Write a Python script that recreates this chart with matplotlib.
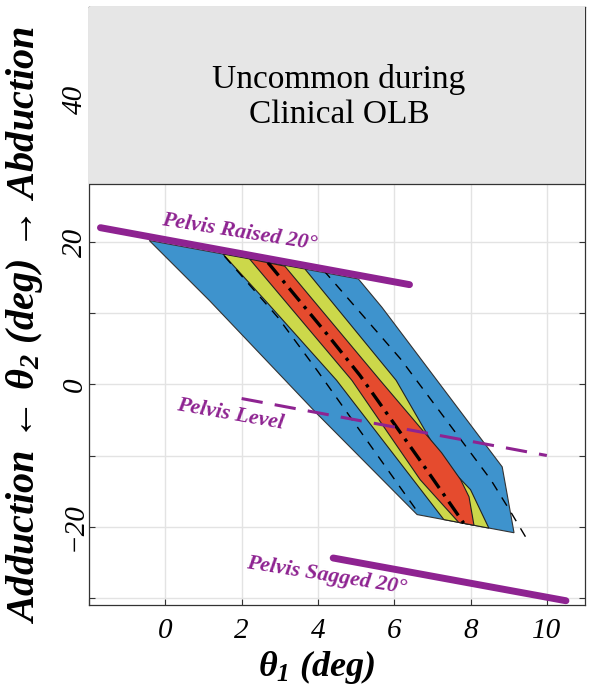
import matplotlib
matplotlib.use("Agg")
import matplotlib.pyplot as plt
from matplotlib.ticker import MultipleLocator, FuncFormatter

plt.rcParams['font.family'] = ['Liberation Serif', 'DejaVu Serif']
plt.rcParams['mathtext.fontset'] = 'custom'
plt.rcParams['mathtext.it'] = 'Liberation Serif:italic:bold'
plt.rcParams['mathtext.rm'] = 'Liberation Serif:italic:bold'

# regiones (theta1, theta2)
banda_azul_x = [-0.42, 5.06, 5.68, 8.83, 9.14, 6.60, 6.47, 3.97, 1.16]
banda_azul_y = [20.2, 14.8, 10.8, -11.6, -20.85, -18.3, -17.6, -4.1, 11.75]

banda_amarilla_x = [1.51, 3.66, 6.05, 7.25, 8.00, 8.48, 7.30, 4.49, 2.65]
banda_amarilla_y = [18.3, 16.2, 0.56, -10.6, -14.8, -20.2, -19.0, 0.56, 11.6]

banda_roja_x = [2.21, 3.13, 5.63, 7.24, 7.74, 7.96, 8.09, 7.69, 6.68, 4.89]
banda_roja_y = [17.6, 16.6, 0.56, -9.6, -13.4, -15.8, -19.8, -19.4, -13.4, 0.56]

# lineas de contorno
media_x = [2.69, 4.23, 5.10, 6.64, 7.82]
media_y = [17.1, 7.1, 1.26, -10.4, -19.5]

limite_izq_x = [1.55, 2.95, 4.00, 6.65]
limite_izq_y = [18.0, 9.4, 1.8, -18.2]

limite_der_x = [4.15, 6.16, 8.53, 9.05, 9.45]
limite_der_y = [16.0, 3.6, -13.4, -17.9, -21.5]

# posiciones de la pelvis
pelvis_elevada_x = [-1.7, 6.4]
pelvis_elevada_y = [22.0, 14.0]
pelvis_nivel_x = [2.0, 10.0]
pelvis_nivel_y = [-2.0, -10.0]
pelvis_caida_x = [4.4, 10.5]
pelvis_caida_y = [-24.4, -30.4]

zona_rara = [28.1, 53.0]

azul = '#3E93CD'
amarillo = '#CCD84A'
rojo = '#E54B2E'
morado = '#8E2391'

fig = plt.figure(figsize=(5.89, 6.88), dpi=100)
ax = fig.add_axes([89/589, 1 - 605/688, 496/589, 598/688])

ax.fill(banda_azul_x, banda_azul_y, facecolor=azul, edgecolor='#333333', linewidth=0.8, zorder=2)
ax.fill(banda_amarilla_x, banda_amarilla_y, facecolor=amarillo, edgecolor='#222222', linewidth=0.8, zorder=2.1)
ax.fill(banda_roja_x, banda_roja_y, facecolor=rojo, edgecolor='#222222', linewidth=0.8, zorder=2.2)

ax.plot(limite_izq_x, limite_izq_y, color='black', linewidth=1.0, dashes=(7, 6), zorder=2.4)
ax.plot(limite_der_x, limite_der_y, color='black', linewidth=1.0, dashes=(7, 6), zorder=2.4)
ax.plot(media_x, media_y, color='black', linewidth=2.4, dashes=(5, 2, 1, 2), zorder=2.5)

ax.plot(pelvis_elevada_x, pelvis_elevada_y, color=morado, linewidth=5, solid_capstyle='round', zorder=2.6)
ax.plot(pelvis_nivel_x, pelvis_nivel_y, color=morado, linewidth=2.2, dashes=(7, 4), zorder=2.6)
ax.plot(pelvis_caida_x, pelvis_caida_y, color=morado, linewidth=5, solid_capstyle='round', zorder=2.6)

estilo = dict(color=morado, fontsize=15.8, fontweight='bold', fontstyle='italic',
              ha='center', va='center', zorder=4)
ax.text(1.95, 21.4, 'Pelvis Raised 20°', rotation=-9, **estilo)
ax.text(1.70, -4.2, 'Pelvis Level', rotation=-10, **estilo)
ax.text(4.22, -26.9, 'Pelvis Sagged 20°', rotation=-9, **estilo)

# zona poco comun
ax.axhspan(zona_rara[0], zona_rara[1], facecolor='#e6e6e6', edgecolor='none', zorder=3)
ax.axhline(zona_rara[0], color='#333333', linewidth=0.9, zorder=3.1)
ax.text(4.55, 40.4, 'Uncommon during\nClinical OLB', fontsize=24, ha='center', va='center',
        linespacing=1.2, zorder=4)

ax.set_xlim(-2, 11)
ax.set_ylim(-31, 53)
ax.xaxis.set_major_locator(MultipleLocator(2))
ax.yaxis.set_major_locator(MultipleLocator(10))
ax.xaxis.set_major_formatter(FuncFormatter(lambda v, p: '' if v < 0 else f'{v:.0f}'))
ax.yaxis.set_major_formatter(FuncFormatter(
    lambda v, p: (f'{v:.0f}'.replace('-', '\u2212') if round(v) % 20 == 0 else '')))
ax.grid(True, color='#e3e3e3', linewidth=1.0, zorder=0)
ax.set_axisbelow(True)
ax.tick_params(direction='in', length=4, color='#333333', top=False, right=True,
               labelsize=21)
for lab in ax.get_xticklabels() + ax.get_yticklabels():
    lab.set_fontstyle('italic')
for lab in ax.get_yticklabels():
    lab.set_rotation(90)
    lab.set_va('center')
ax.tick_params(axis='y', pad=1)
ax.tick_params(axis='x', pad=9)
for s in ax.spines.values():
    s.set_color('#333333')
    s.set_linewidth(0.9)

ax.set_xlabel(r'$\theta_1$ (deg)', fontsize=26, fontweight='bold', fontstyle='italic')
ax.xaxis.set_label_coords(0.458, -0.072)
ax.set_ylabel('Adduction \u2190 ' + r'$\theta_2$' + ' (deg) \u2192 Abduction', fontsize=29,
              fontweight='bold', fontstyle='italic')
ax.yaxis.set_label_coords(-0.089, 0.468)

fig.savefig('out.png', dpi=100)
